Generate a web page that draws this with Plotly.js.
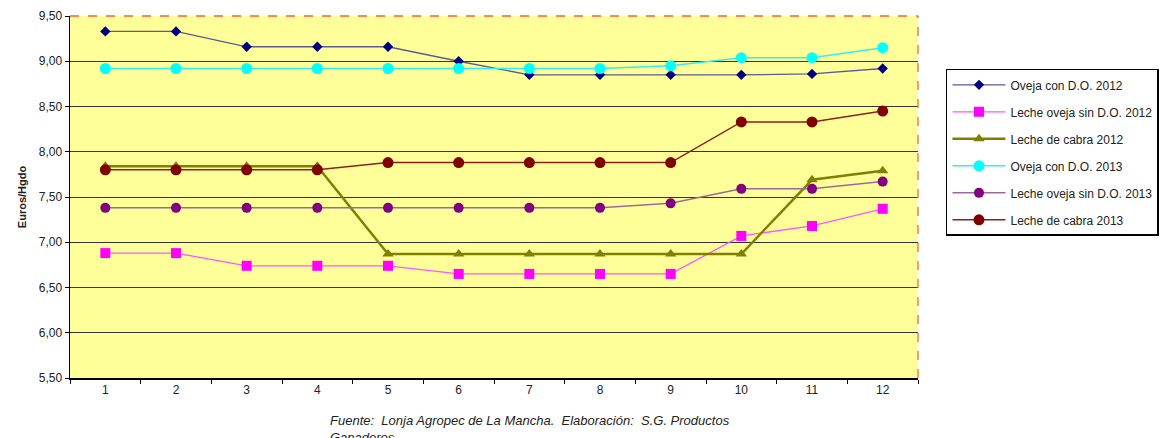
<!DOCTYPE html>
<html>
<head>
<meta charset="utf-8">
<script src="https://cdn.plot.ly/plotly-3.0.1.min.js"></script>
<style>html,body{margin:0;padding:0;background:#fff;}#chart{width:1173px;height:438px;}</style>
</head>
<body>
<div id="chart"></div>
<script>
const months = ["1","2","3","4","5","6","7","8","9","10","11","12"];
const ovejaDO2012 = [9.33, 9.33, 9.16, 9.16, 9.16, 9.00, 8.85, 8.85, 8.85, 8.85, 8.86, 8.92];
const lecheOvejaSinDO2012 = [6.88, 6.88, 6.74, 6.74, 6.74, 6.65, 6.65, 6.65, 6.65, 7.07, 7.18, 7.37];
const lecheCabra2012 = [7.84, 7.84, 7.84, 7.84, 6.87, 6.87, 6.87, 6.87, 6.87, 6.87, 7.69, 7.79];
const ovejaDO2013 = [8.92, 8.92, 8.92, 8.92, 8.92, 8.92, 8.92, 8.92, 8.95, 9.04, 9.04, 9.15];
const lecheOvejaSinDO2013 = [7.38, 7.38, 7.38, 7.38, 7.38, 7.38, 7.38, 7.38, 7.43, 7.59, 7.59, 7.67];
const lecheCabra2013 = [7.80, 7.80, 7.80, 7.80, 7.88, 7.88, 7.88, 7.88, 7.88, 8.33, 8.33, 8.45];
const seriesNames = ["Oveja con D.O. 2012", "Leche oveja sin D.O. 2012", "Leche de cabra 2012",
                     "Oveja con D.O. 2013", "Leche oveja sin D.O. 2013", "Leche de cabra 2013"];
const yTickVals = [5.5, 6.0, 6.5, 7.0, 7.5, 8.0, 8.5, 9.0, 9.5];

const F = "Liberation Sans, Arial, sans-serif";
function tr(y, name, color, lineColor, lw, symbol, size) {
  return {x: months, y: y, name: name, legendgroup: name, type: "scatter", mode: "lines+markers",
    line: {color: lineColor, width: lw}, marker: {color: color, symbol: symbol, size: size}};
}
const data = [
  tr(ovejaDO2012, seriesNames[0], "#000080", "#5a5a96", 1.3, "diamond", 8),
  tr(lecheOvejaSinDO2012, seriesNames[1], "#FF00FF", "#FF55FF", 1.3, "square", 10),
  tr(lecheCabra2012, seriesNames[2], "#808000", "#808000", 2.5, "triangle-up", 10),
  tr(ovejaDO2013, seriesNames[3], "#00FFFF", "#33EEEE", 1.5, "circle", 11),
  tr(lecheOvejaSinDO2013, seriesNames[4], "#800080", "#9a6a9a", 1.5, "circle", 10),
  tr(lecheCabra2013, seriesNames[5], "#800000", "#8a2020", 1.5, "circle", 11)
];
const layout = {
  width: 1173, height: 438,
  margin: {l: 70, r: 255, t: 16, b: 60},
  paper_bgcolor: "#ffffff", plot_bgcolor: "#FFFF99",
  separators: ",.",
  font: {family: F, size: 12, color: "#222"},
  showlegend: true,
  legend: {x: 1.033, xanchor: "left", y: 0.854, yanchor: "top",
    bordercolor: "#000", borderwidth: 1.5, bgcolor: "#fff",
    font: {family: F, size: 12, color: "#222"}, tracegroupgap: 8, itemwidth: 53},
  xaxis: {type: "category", range: [-0.5, 11.5], tickson: "boundaries", ticks: "outside", ticklen: 4,
    tickcolor: "#000", showline: true, linecolor: "#000", linewidth: 1.5,
    showgrid: false, zeroline: false, tickfont: {size: 12}},
  yaxis: {range: [5.5, 9.5], tickvals: yTickVals, tickformat: ".2f", ticks: "outside",
    ticklen: 4, tickcolor: "#000", showline: true, linecolor: "#000", linewidth: 1.5,
    gridcolor: "#333", gridwidth: 1, zeroline: false, tickfont: {size: 12},
    title: {text: "<b>Euros/Hgdo</b>", font: {size: 11, family: F}, standoff: 10}},
  shapes: [
    {type: "line", xref: "paper", yref: "paper", x0: 0, x1: 1, y0: 1, y1: 1,
     line: {color: "#F06040", width: 1.5, dash: "dash"}},
    {type: "line", xref: "paper", yref: "paper", x0: 1, x1: 1, y0: 0, y1: 1,
     line: {color: "#F08040", width: 1.5, dash: "dash"}}
  ],
  annotations: [
    {xref: "paper", yref: "paper", x: 0.304, y: -0.09, xanchor: "left", yanchor: "top",
     showarrow: false, align: "left",
     text: "<i>Fuente:  Lonja Agropec de La Mancha.  Elaboración:  S.G. Productos<br>Ganaderos</i>",
     font: {family: F, size: 13, color: "#222"}}
  ]
};
Plotly.newPlot("chart", data, layout, {displayModeBar: false, staticPlot: true});
</script>
</body>
</html>
